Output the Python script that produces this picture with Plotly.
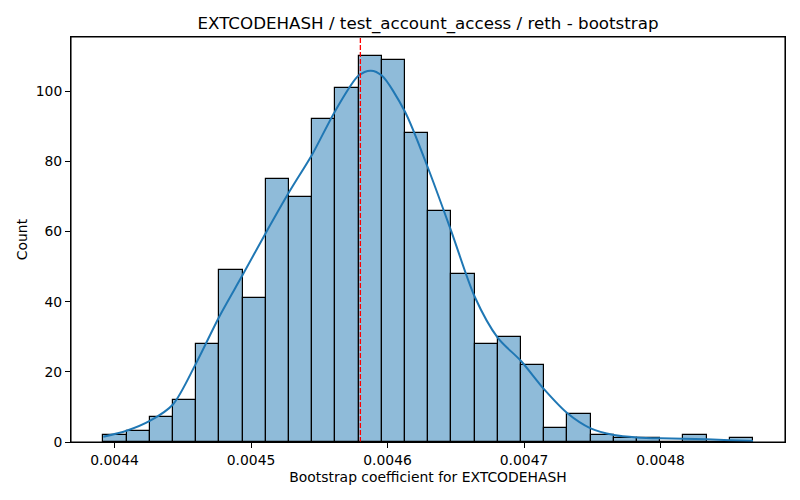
import numpy as np
import plotly.graph_objects as go

# ---------------------------------------------
# Datos (histograma bootstrap)
# ---------------------------------------------
bin_start = 0.0043918
bin_width = 0.000017
counts = [2, 3, 7, 12, 28, 49, 41, 75, 70, 92, 101, 110, 109, 88,
          66, 48, 28, 30, 22, 4, 8, 2, 1, 1, 0, 2, 0, 1]

# curva KDE (en unidades de "Count")
kde_x = [0.0043918, 0.0044088, 0.0044258, 0.0044428, 0.0044598, 0.0044768,
         0.0044938, 0.0045108, 0.0045278, 0.0045448, 0.0045618, 0.0045788,
         0.0045878, 0.0045958, 0.0046128, 0.0046298, 0.0046468, 0.0046638,
         0.0046808, 0.0046978, 0.0047148, 0.0047318, 0.0047488, 0.0047658,
         0.0047828, 0.0047998, 0.0048168, 0.0048338, 0.0048508, 0.0048678]
kde_y = [1.5, 3.2, 6.0, 10.7, 22.5, 35.8, 47.6, 59.6, 71.2, 82.0,
         94.5, 104.5, 105.9, 104.5, 94.2, 78.0, 60.0, 41.5, 29.7, 23.1,
         15.0, 8.2, 3.9, 2.0, 1.3, 1.05, 0.95, 0.8, 0.5, 0.3]

media = 0.0045801

x_ticks = [0.0044, 0.0045, 0.0046, 0.0047, 0.0048]
y_ticks = [0, 20, 40, 60, 80, 100]

centros = bin_start + bin_width * (np.arange(len(counts)) + 0.5)

fig = go.Figure()

# barras del histograma
fig.add_trace(go.Bar(
    x=centros,
    y=counts,
    width=bin_width,
    marker=dict(color="rgba(31,119,180,0.5)",
                line=dict(color="black", width=1.2)),
    showlegend=False,
))

# curva KDE
fig.add_trace(go.Scatter(
    x=kde_x,
    y=kde_y,
    mode="lines",
    line=dict(color="#1f77b4", width=2, shape="spline", smoothing=0.8),
    showlegend=False,
))

# línea vertical roja (media)
fig.add_shape(type="line", x0=media, x1=media, y0=0, y1=1,
              xref="x", yref="paper",
              line=dict(color="red", width=1.3, dash="5px,2px"))

# marco del área de trazado
fig.add_shape(type="rect", x0=0, x1=1, y0=0, y1=1,
              xref="paper", yref="paper",
              line=dict(color="black", width=1.1))

fig.update_layout(
    width=800,
    height=500,
    title=dict(text="EXTCODEHASH / test_account_access / reth - bootstrap",
               x=(71 + 785) / 2 / 800, xanchor="center",
               y=1 - 23 / 500, yanchor="middle",
               font=dict(size=16.7, color="black")),
    font=dict(family="DejaVu Sans", size=13.9, color="black"),
    paper_bgcolor="white",
    plot_bgcolor="white",
    margin=dict(l=71, r=15, t=37, b=58),
    bargap=0,
)

fig.update_xaxes(
    range=[0.0043681, 0.0048912],
    tickvals=x_ticks,
    ticktext=[f"{v:.4f}" for v in x_ticks],
    ticks="outside", ticklen=5, tickcolor="black",
    showline=True, linecolor="black", linewidth=1, mirror=True,
    showgrid=False, zeroline=False, automargin=False,
    title=dict(text="Bootstrap coefficient for EXTCODEHASH",
               font=dict(size=13.9), standoff=5),
)
fig.update_yaxes(
    range=[0, 115.5],
    tickvals=y_ticks,
    ticks="outside", ticklen=5, tickcolor="black",
    showline=True, linecolor="black", linewidth=1, mirror=True,
    showgrid=False, zeroline=False, automargin=False,
    title=dict(text="Count", font=dict(size=13.9), standoff=4),
)

# quitar el margen por defecto del body para que la figura quede en (0,0)
fig.write_html("out.html", config={"displayModeBar": False},
               post_script="document.body.style.margin='0';")
